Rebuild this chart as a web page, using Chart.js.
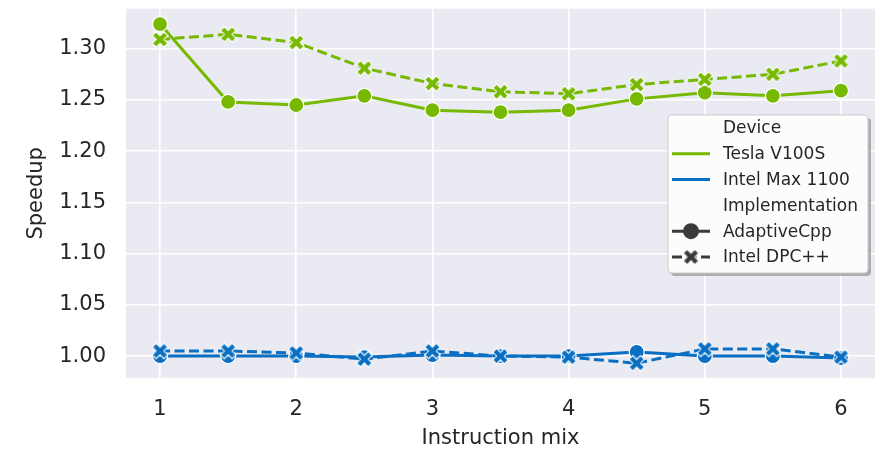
<!DOCTYPE html>
<html>
<head>
<meta charset="utf-8">
<title>Speedup by instruction mix</title>
<script src="https://cdn.jsdelivr.net/npm/chart.js"></script>
<style>
  html, body { margin: 0; padding: 0; background: #fff; }
  #speedupChart { display: block; }
</style>
</head>
<body>
<canvas id="speedupChart" width="884" height="454"></canvas>
<script>
// instruction mix steps on the x axis
const mixValues = [1, 1.5, 2, 2.5, 3, 3.5, 4, 4.5, 5, 5.5, 6];
const xTicks = [1, 2, 3, 4, 5, 6];
const yTicks = [1.00, 1.05, 1.10, 1.15, 1.20, 1.25, 1.30];

// speedup per device / implementation
const teslaAdaptiveCpp = [1.324, 1.248, 1.245, 1.254, 1.240, 1.238, 1.240, 1.251, 1.257, 1.254, 1.259];
const teslaDpcpp = [1.309, 1.314, 1.306, 1.281, 1.266, 1.258, 1.256, 1.265, 1.270, 1.275, 1.288];
const intelAdaptiveCpp = [1.000, 1.000, 1.000, 0.999, 1.001, 1.000, 1.000, 1.004, 1.000, 1.000, 0.998];
const intelDpcpp = [1.005, 1.005, 1.003, 0.997, 1.005, 1.000, 0.999, 0.993, 1.007, 1.007, 0.999];

const GREEN = '#76b900';
const BLUE = '#0a6fc2';
const TEXT = '#262626';
const FONT = "'DejaVu Sans', sans-serif";

// filled "X" marker with a thin white edge
function makeXMarker(color, size) {
  const c = document.createElement('canvas');
  c.width = c.height = size;
  const g = c.getContext('2d');
  const h = size / 2, w = 2.7, a = 8.2;
  g.translate(h, h);
  g.rotate(Math.PI / 4);
  g.beginPath();
  g.moveTo(-w, -a); g.lineTo(w, -a); g.lineTo(w, -w); g.lineTo(a, -w);
  g.lineTo(a, w); g.lineTo(w, w); g.lineTo(w, a); g.lineTo(-w, a);
  g.lineTo(-w, w); g.lineTo(-a, w); g.lineTo(-a, -w); g.lineTo(-w, -w);
  g.closePath();
  g.fillStyle = color;
  g.fill();
  g.strokeStyle = '#fff';
  g.lineWidth = 1;
  g.stroke();
  return c;
}

function toPoints(values) {
  return mixValues.map((x, i) => ({ x: x, y: values[i] }));
}

function series(label, values, color, dashed, order) {
  return {
    label: label,
    data: toPoints(values),
    borderColor: color,
    backgroundColor: color,
    borderWidth: 3,
    borderDash: dashed ? [10, 4.5] : [],
    pointBackgroundColor: color,
    pointBorderColor: '#fff',
    pointBorderWidth: 1.2,
    pointRadius: 7.5,
    pointStyle: dashed ? makeXMarker(color, 19) : 'circle',
    tension: 0,
    order: order
  };
}

// grey plot background behind the grid
const plotBackground = {
  id: 'plotBackground',
  beforeDraw(chart) {
    const { ctx, chartArea: a } = chart;
    ctx.save();
    ctx.fillStyle = '#eaeaf2';
    ctx.fillRect(a.left, a.top, a.right - a.left, a.bottom - a.top);
    ctx.restore();
  }
};

// two-section legend: Device colours, Implementation line styles
const sectionLegend = {
  id: 'sectionLegend',
  afterDraw(chart) {
    const ctx = chart.ctx;
    const bx = 668, by = 115, bw = 200, bh = 158;
    ctx.save();
    ctx.fillStyle = 'rgba(120,120,120,0.55)';
    ctx.beginPath();
    ctx.roundRect(bx + 3, by + 3, bw, bh, 4);
    ctx.fill();
    ctx.fillStyle = 'rgba(255,255,255,0.96)';
    ctx.strokeStyle = '#cccccc';
    ctx.lineWidth = 1;
    ctx.beginPath();
    ctx.roundRect(bx, by, bw, bh, 4);
    ctx.fill();
    ctx.stroke();

    const rows = [
      { text: 'Device' },
      { text: 'Tesla V100S', color: GREEN },
      { text: 'Intel Max 1100', color: BLUE },
      { text: 'Implementation' },
      { text: 'AdaptiveCpp', color: '#3a3a3a', marker: 'circle' },
      { text: 'Intel DPC++', color: '#3a3a3a', marker: 'x', dashed: true }
    ];
    const x0 = 672, x1 = 710, tx = 723;
    ctx.font = '17px ' + FONT;
    ctx.textBaseline = 'middle';
    rows.forEach((r, i) => {
      const y = 128 + i * 25.8;
      if (r.color) {
        ctx.strokeStyle = r.color;
        ctx.lineWidth = 3;
        ctx.setLineDash(r.dashed ? [10, 4.5] : []);
        ctx.beginPath();
        ctx.moveTo(x0, y);
        ctx.lineTo(x1, y);
        ctx.stroke();
        ctx.setLineDash([]);
        const mx = (x0 + x1) / 2;
        if (r.marker === 'circle') {
          ctx.fillStyle = r.color;
          ctx.beginPath();
          ctx.arc(mx, y, 8, 0, Math.PI * 2);
          ctx.fill();
        } else if (r.marker === 'x') {
          const img = makeXMarker(r.color, 19);
          ctx.drawImage(img, mx - 9.5, y - 9.5);
        }
      }
      ctx.fillStyle = TEXT;
      ctx.fillText(r.text, tx, y + 1);
    });
    ctx.restore();
  }
};

new Chart(document.getElementById('speedupChart'), {
  type: 'line',
  data: {
    datasets: [
      series('Tesla V100S / AdaptiveCpp', teslaAdaptiveCpp, GREEN, false, 3),
      series('Tesla V100S / Intel DPC++', teslaDpcpp, GREEN, true, 2),
      series('Intel Max 1100 / AdaptiveCpp', intelAdaptiveCpp, BLUE, false, 1),
      series('Intel Max 1100 / Intel DPC++', intelDpcpp, BLUE, true, 0)
    ]
  },
  options: {
    responsive: false,
    animation: false,
    layout: { padding: { top: 8, right: 9, left: 0, bottom: 0 } },
    plugins: {
      legend: { display: false },
      tooltip: { enabled: false }
    },
    scales: {
      x: {
        type: 'linear',
        min: 0.75,
        max: 6.25,
        afterBuildTicks: s => { s.ticks = xTicks.map(v => ({ value: v })); },
        afterFit: s => { s.height = 76; s.paddingLeft = 0; s.paddingRight = 0; },
        grid: { color: '#ffffff', lineWidth: 1.6, drawTicks: false },
        border: { display: false },
        ticks: {
          color: TEXT,
          padding: 19,
          font: { family: FONT, size: 21 },
          callback: v => String(v)
        },
        title: {
          display: true,
          text: 'Instruction mix',
          color: TEXT,
          font: { family: FONT, size: 21 },
          padding: { top: 0, bottom: 3 }
        }
      },
      y: {
        min: 0.9786,
        max: 1.339,
        afterBuildTicks: s => { s.ticks = yTicks.map(v => ({ value: v })); },
        afterFit: s => { s.width = 126; s.paddingTop = 0; s.paddingBottom = 0; },
        grid: { color: '#ffffff', lineWidth: 1.6, drawTicks: false },
        border: { display: false },
        ticks: {
          color: TEXT,
          padding: 20,
          font: { family: FONT, size: 21 },
          callback: v => v.toFixed(2)
        },
        title: {
          display: true,
          text: 'Speedup',
          color: TEXT,
          font: { family: FONT, size: 21 },
          padding: { top: 24, bottom: 0 }
        }
      }
    }
  },
  plugins: [plotBackground, sectionLegend]
});
</script>
</body>
</html>
